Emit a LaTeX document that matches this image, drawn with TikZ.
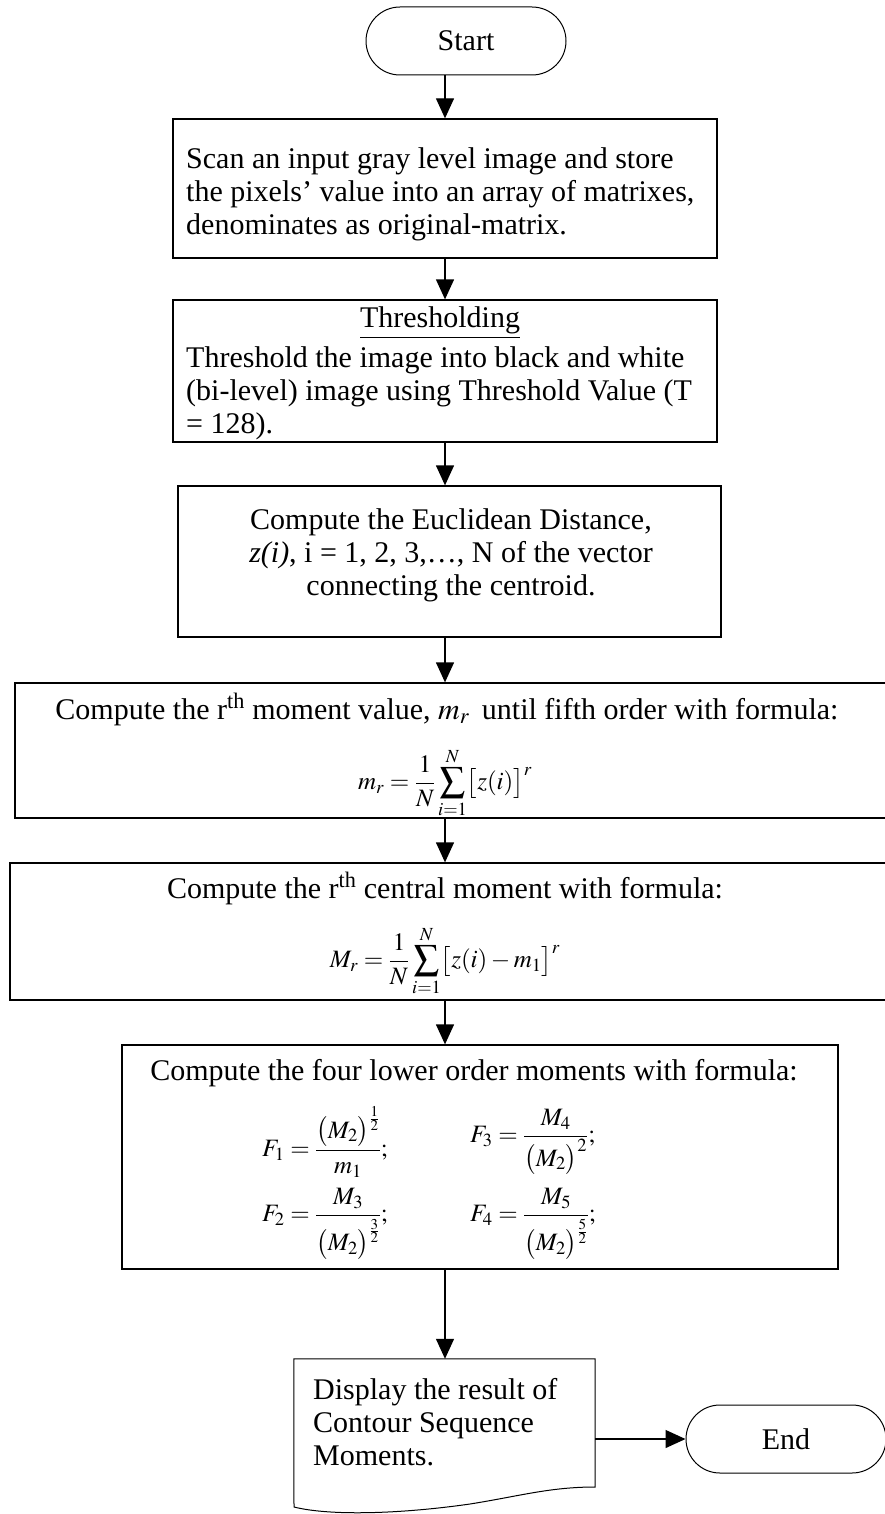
\documentclass[tikz,border=0pt]{standalone}
\usepackage{mathptmx}
\usepackage{fontspec}
\setmainfont{Liberation Serif}
\usetikzlibrary{arrows.meta}

\begin{document}
\begin{tikzpicture}[x=1pt,y=-1pt,
  every node/.style={font=\fontsize{30}{33}\selectfont, inner sep=0pt},
  proc/.style={draw, line width=1.3pt},
  term/.style={draw, line width=1pt, rounded corners=34pt,
    minimum height=68pt},
  txt/.style={align=left, anchor=north west},
  ctxt/.style={align=center},
  eq/.style={font=\fontsize{25}{30}\selectfont},
  flow/.style={-{Triangle[length=20pt,width=18pt]}, line width=1.3pt}]
\useasboundingbox (0,0) rectangle (885,1514);

% main column of the connectors
\coordinate (col) at (445,0);

% start terminal
\node[term, minimum width=200pt] (start) at (466,41) {Start};

% step 1: scanning
\node[proc, minimum width=544pt, minimum height=139pt] (b1) at (445,188.5) {};
\node[txt] (t1) at (186,147) {Scan an input gray level image and store\\
the pixels' value into an array of matrixes,\\
denominates as original-matrix.};

% step 2: thresholding
\node[proc, minimum width=544pt, minimum height=142pt] (b2) at (445,371) {};
\node[ctxt, anchor=base] (t2a) at (440,327) {\underline{Thresholding}};
\node[txt] (t2b) at (186,346) {Threshold the image into black and white\\
(bi-level) image using Threshold Value (T\\
= 128).};

% step 3: Euclidean distance
\node[proc, minimum width=543pt, minimum height=151pt] (b3) at (449.5,561.5) {};
\node[ctxt, anchor=north] (t3) at (451,508) {Compute the Euclidean Distance,\\
\textit{z(i)}, i = 1, 2, 3,…, N of the vector\\
connecting the centroid.};

% step 4: moment values
\node[proc, minimum width=877pt, minimum height=135pt] (b4) at (453.5,750.5) {};
\node[ctxt, anchor=base] (t4) at (447,719) {Compute the r\textsuperscript{th} moment value,
  $m_r$\, until fifth order with formula:};
\node[eq] (f4) at (445,783) {$\displaystyle m_r=\frac{1}{N}\sum_{i=1}^{N}\bigl[z(i)\bigr]^r$};

% step 5: central moments
\node[proc, minimum width=882pt, minimum height=137pt] (b5) at (451,931.5) {};
\node[ctxt, anchor=base] (t5) at (445,898) {Compute the r\textsuperscript{th} central moment with formula:};
\node[eq] (f5) at (445,961) {$\displaystyle M_r=\frac{1}{N}\sum_{i=1}^{N}\bigl[z(i)-m_1\bigr]^r$};

% step 6: lower order moments
\node[proc, minimum width=716pt, minimum height=224pt] (b6) at (480,1157) {};
\node[ctxt, anchor=base] (t6) at (474,1080) {Compute the four lower order moments with formula:};
\node[eq, anchor=west] (f1) at (262,1142) {$\displaystyle F_1=\frac{\bigl(M_2\bigr)^{\frac12}}{m_1};$};
\node[eq, anchor=west] (f3) at (470,1142) {$\displaystyle F_3=\frac{M_4}{\bigl(M_2\bigr)^2};$};
\node[eq, anchor=west] (f2) at (262,1224) {$\displaystyle F_2=\frac{M_3}{\bigl(M_2\bigr)^{\frac32}};$};
\node[eq, anchor=west] (f4b) at (470,1224) {$\displaystyle F_4=\frac{M_5}{\bigl(M_2\bigr)^{\frac52}};$};

% output document
\node[minimum width=301pt, minimum height=128pt] (doc) at (444.5,1423) {};
\coordinate (docbl) at (294,1507);
\coordinate (docbr) at (595,1487);
\coordinate (docmid) at (470,1504);
\draw[line width=1pt] (doc.north west) -- (doc.north east) -- (docbr)
  .. controls (550,1487) and (520,1496) .. (docmid)
  .. controls (400,1514) and (330,1516) .. (docbl) -- cycle;
\node[txt] (t7) at (313,1378) {Display the result of\\
Contour Sequence\\
Moments.};

% end terminal
\node[term, minimum width=200pt] (endn) at (786,1439) {End};

% connectors
\draw[flow] (start.south -| col) -- (b1.north -| col);
\draw[flow] (b1.south -| col) -- (b2.north -| col);
\draw[flow] (b2.south -| col) -- (b3.north -| col);
\draw[flow] (b3.south -| col) -- (b4.north -| col);
\draw[flow] (b4.south -| col) -- (b5.north -| col);
\draw[flow] (b5.south -| col) -- (b6.north -| col);
\draw[flow] (b6.south -| col) -- (doc.north -| col);
\draw[flow] (doc.east |- endn.west) -- (endn.west);
\end{tikzpicture}
\end{document}
